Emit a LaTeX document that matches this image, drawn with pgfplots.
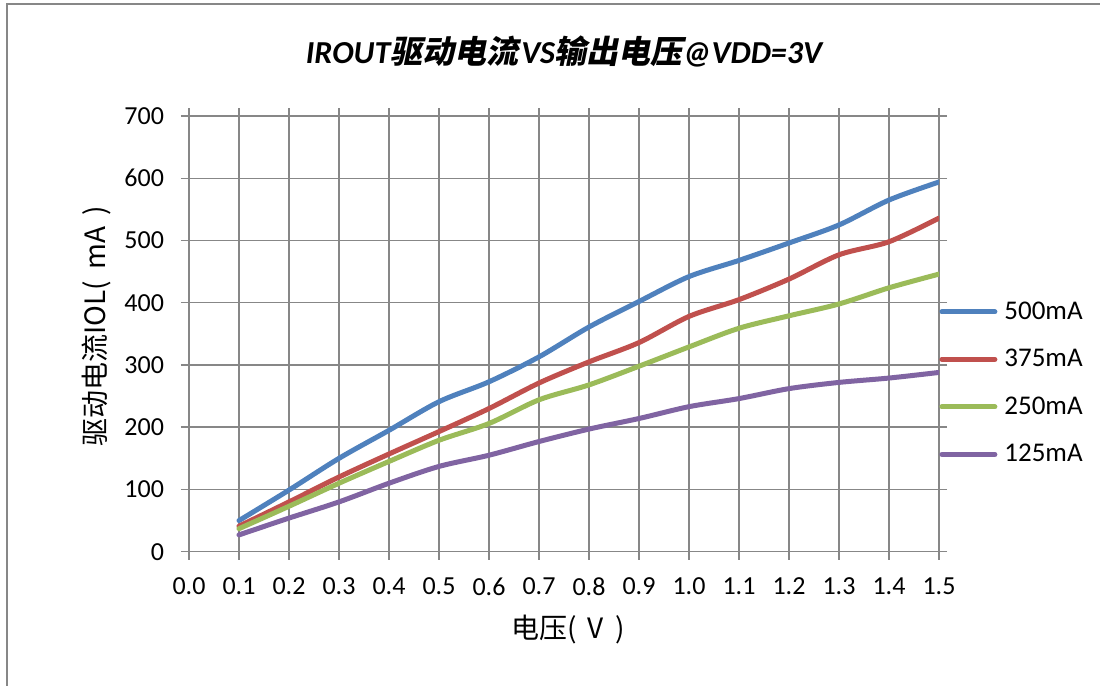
\documentclass[border=0pt]{standalone}
\usepackage{fontspec}
\setmainfont{Carlito}
\newfontfamily\cjk{Noto Sans CJK SC}
\newfontfamily\cjkt{Noto Sans CJK SC}[FakeSlant=0.2]
\usepackage{pgfplots}
\pgfplotsset{compat=1.18}
\definecolor{sblue}{HTML}{4F81BD}
\definecolor{sred}{HTML}{C0504D}
\definecolor{sgreen}{HTML}{9BBB59}
\definecolor{spurple}{HTML}{8064A2}
\definecolor{gridgray}{HTML}{878787}
\begin{document}
\begin{tikzpicture}[x=1pt,y=1pt]
\useasboundingbox (0,0) rectangle (550,343);
\draw[color=gridgray, line width=0.75pt] (3.5,0) -- (3.5,341) -- (550,341);
\node[font=\fontsize{16}{18}\selectfont\bfseries\itshape] at (282,317) {IROUT{\cjkt\bfseries 驱动电流}\kern1.5pt VS{\cjkt\bfseries 输出电压}@VDD=3V};
\begin{axis}[
  at={(94.5pt,67.15pt)}, anchor=south west,
  scale only axis, width=375pt, height=217.85pt,
  xmin=0, xmax=1.5, ymin=0, ymax=700,
  xtick={0,0.1,0.2,0.3,0.4,0.5,0.6,0.7,0.8,0.9,1.0,1.1,1.2,1.3,1.4,1.5},
  xticklabels={0.0,0.1,0.2,0.3,0.4,0.5,0.6,0.7,0.8,0.9,1.0,1.1,1.2,1.3,1.4,1.5},
  ytick={0,100,200,300,400,500,600,700},
  grid=major,
  major grid style={color=gridgray, line width=0.75pt},
  axis line style={color=gridgray, line width=0.75pt},
  tick style={color=gridgray, line width=0.75pt},
  tick align=outside, major tick length=4pt,
  /pgf/number format/assume math mode=true,
  ticklabel style={font=\fontsize{13}{15}\selectfont},
  xticklabel style={yshift=-5.5pt},
  yticklabel style={xshift=-5pt},
  xlabel={电压(\hspace{0.4em}V\hspace{0.4em})},
  ylabel={驱动电流IOL(\hspace{0.4em}mA\hspace{0.4em})},
  label style={font=\cjk\fontsize{14}{16}\selectfont},
  xlabel style={at={(axis description cs:0.505,0)}, anchor=center, yshift=-39pt},
  ylabel style={at={(axis description cs:-0.1227,0.518)}, anchor=center},
  legend style={at={(rel axis cs:1,0.387)}, anchor=west, draw=none, fill=none,
    inner sep=0pt, font=\fontsize{13.5}{15}\selectfont, row sep=11.5pt,
    nodes={inner sep=1pt}},
  legend cell align=left,
  /tikz/every odd column/.style={column sep=2.5pt},
  legend image code/.code={\draw[#1, line width=2.5pt, line cap=round] (1.5pt,0pt) -- (28pt,0pt);},
  every axis plot/.append style={line width=2.5pt, smooth, line cap=round, no markers},
]
\addplot[sblue] coordinates {(0.1,50)(0.2,99)(0.3,150)(0.4,195)(0.5,241)(0.6,273)(0.7,313)(0.8,361)(0.9,402)(1.0,442)(1.1,468)(1.2,496)(1.3,525)(1.4,565)(1.5,594)};
\addlegendentry{500mA}
\addplot[sred] coordinates {(0.1,41)(0.2,80)(0.3,120)(0.4,157)(0.5,193)(0.6,230)(0.7,271)(0.8,305)(0.9,336)(1.0,378)(1.1,405)(1.2,438)(1.3,477)(1.4,498)(1.5,536)};
\addlegendentry{375mA}
\addplot[sgreen] coordinates {(0.1,37)(0.2,73)(0.3,110)(0.4,145)(0.5,179)(0.6,206)(0.7,244)(0.8,268)(0.9,298)(1.0,329)(1.1,359)(1.2,379)(1.3,398)(1.4,424)(1.5,446)};
\addlegendentry{250mA}
\addplot[spurple] coordinates {(0.1,27)(0.2,54)(0.3,80)(0.4,110)(0.5,137)(0.6,155)(0.7,177)(0.8,197)(0.9,214)(1.0,233)(1.1,246)(1.2,262)(1.3,272)(1.4,279)(1.5,288)};
\addlegendentry{125mA}
\end{axis}
\end{tikzpicture}
\end{document}
